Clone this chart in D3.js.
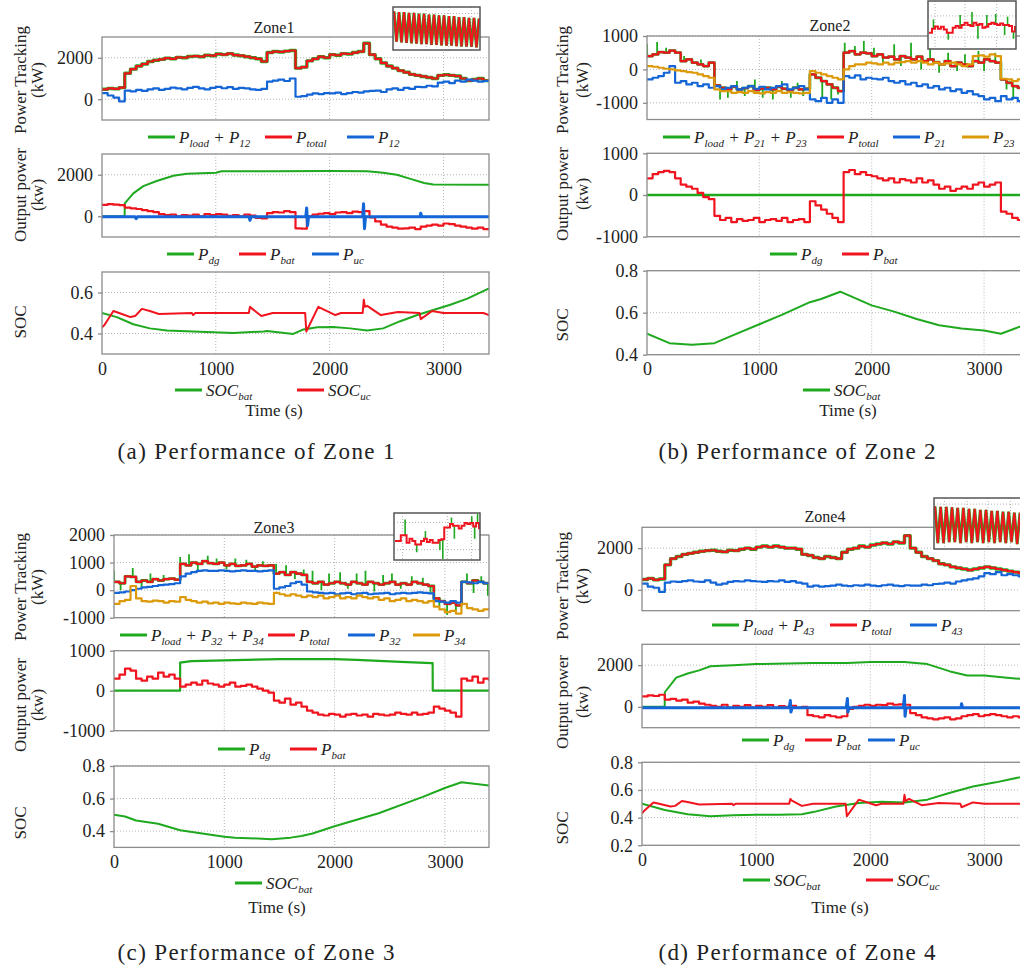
<!DOCTYPE html>
<html>
<head>
<meta charset="utf-8">
<script src="https://cdnjs.cloudflare.com/ajax/libs/d3/7.8.5/d3.min.js"></script>
<style>
  body { margin: 0; background: #fff; }
  svg text { fill: #222; }
</style>
</head>
<body>
<script>
// ---- data ----
// noisy signals sampled every 50 s from 0 to 3400 s
const T50 = d3.range(0, 3401, 50);
const xTickVals = [0, 1000, 2000, 3000];

// Zone 1
const z1Total = [480, 520, 500, 560,
  1250, 1450, 1600, 1700, 1820, 1880, 1920, 1980, 1950, 2020,
  2000, 2060, 2080, 2050, 2120, 2100, 2180, 2150, 2200, 2130,
  2100, 2050, 2000, 1950, 1820,
  2250, 2300, 2280, 2320, 2350,
  1500, 1550,
  1850, 1950, 2050, 2000, 2150, 2120, 2200, 2180, 2250, 2300,
  2700, 2150, 1950, 1750, 1600, 1500, 1380, 1300, 1200, 1150,
  1100, 1050, 1000, 1150, 1180, 1150, 1120, 1000, 900, 950,
  1000, 900, 920];
const z1Load = z1Total; // P_load + P_12 lies under P_total
const z1P12 = [300, 180, 80, -100,
  420, 380, 450, 400, 480, 520, 450, 500, 560, 520,
  480, 550, 600, 520, 480, 550, 600, 530, 580, 500,
  550, 520, 480, 450, 500,
  850, 900, 950, 880, 1000,
  120, 150,
  220, 280, 250, 300, 280, 320, 250, 300, 350, 320,
  380, 400, 420, 350, 480, 520, 450, 550, 500, 600,
  580, 650, 620, 800, 850, 780, 900, 850, 950, 900,
  850, 880, 900];
const z1Bat = [550, 580, 560, 540,
  420, 380, 350, 300, 250, 200, 100, 50, 80, 0,
  50, 30, 80, 0, 100, 50, 100, 80, 20, 60,
  0, 80, 30, -80, -100,
  150, 200, 180, 250, 200,
  -580, -600,
  0, 80, 120, 150, 100, 180, 200, 150, 220, 200,
  250, -50, -250, -400, -500, -550, -600, -580, -550, -620,
  -500, -450, -400, -450, -350, -380, -450, -500, -550, -600,
  -550, -620, -650];
const z1DgT = [0, 199, 200, 275, 363, 480, 627, 745, 1000, 1050, 1500, 2000, 2330, 2470, 2590, 2710, 2830, 2910, 3400];
const z1DgV = [0, 0, 620, 1100, 1450, 1700, 1950, 2050, 2100, 2170, 2170, 2180, 2170, 2100, 2000, 1800, 1600, 1530, 1520];
const z1UcT = [0, 290, 300, 310, 1290, 1300, 1310, 1790, 1798, 1806, 1815, 2290, 2298, 2306, 2315, 2795, 2800, 2810, 3400];
const z1UcV = [-30, -30, -120, -30, -30, -200, -30, -30, 400, -450, -30, -30, 600, -600, -30, -30, 150, -30, -30];
const z1SocBatT = [0, 130, 275, 420, 570, 860, 1155, 1420, 1450, 1680, 1770, 1890, 2030, 2180, 2330, 2470, 2620, 2770, 2910, 3060, 3210, 3400];
const z1SocBatV = [0.50, 0.48, 0.445, 0.425, 0.415, 0.408, 0.402, 0.41, 0.412, 0.398, 0.42, 0.43, 0.432, 0.425, 0.415, 0.425, 0.46, 0.49, 0.515, 0.54, 0.57, 0.62];
const z1SocUcT = [0, 20, 100, 150, 250, 290, 300, 350, 420, 500, 790, 800, 820, 1290, 1300, 1310, 1400, 1500, 1785, 1795, 1900, 2050, 2100, 2290, 2300, 2310, 2330, 2450, 2600, 2790, 2800, 2900, 3000, 3350, 3400];
const z1SocUcV = [0.43, 0.44, 0.51, 0.50, 0.48, 0.485, 0.49, 0.52, 0.51, 0.495, 0.50, 0.49, 0.50, 0.50, 0.53, 0.525, 0.485, 0.50, 0.50, 0.41, 0.53, 0.49, 0.50, 0.50, 0.565, 0.53, 0.535, 0.49, 0.505, 0.50, 0.47, 0.51, 0.50, 0.50, 0.49];
const z1Zig = [0.92, 0.18, 0.9, 0.16, 0.9, 0.15, 0.88, 0.14, 0.88, 0.13, 0.86, 0.12, 0.86, 0.12, 0.84, 0.1, 0.84, 0.1,
  0.82, 0.09, 0.82, 0.08, 0.8, 0.08, 0.8, 0.07, 0.78, 0.06, 0.78, 0.06, 0.76, 0.05, 0.76, 0.04, 0.74];

// Zone 2
const z2Total = [400, 450, 520, 500, 560, 500, 250, 300, 200, 150, 100, 200,
  -480, -550, -600, -520, -600, -560, -500, -620, -580, -550, -600, -520, -580, -620, -550, -600,
  -580,
  -150, -250, -350, -450, -550, -650,
  500, 550, 450, 500, 480, 400, 450, 350, 380, 300, 400, 350, 300, 380, 250, 300, 220, 150, 250, 100, 200, 150, 100,
  250, 200, 300, 250, 200,
  -300, -400, -500, -550, -650, -700];
// P_load + P_21 + P_23 follows P_total, with short spikes (time, tip value)
const z2SpikeT = [0, 90, 170, 330, 480, 650, 720, 800, 870, 960, 1030, 1120, 1200, 1280, 1340, 1390, 1560, 1640, 1700,
  1760, 1850, 1930, 2020, 2100, 2200, 2260, 2350, 2440, 2520, 2600, 2680, 2760, 2830, 2950, 3000, 3100, 3200, 3260, 3330];
const z2SpikeV = [750, 820, 650, 400, 300, -900, -850, -350, -800, -300, -850, -900, -350, -850, -400, -800, -850, -900, -750,
  800, 700, 850, 650, 150, 750, 100, 800, 0, 650, -100, 500, -50, 450, 550, -50, 500, -600, -900, -200];
const z2P21 = [-300, -250, -200, -100, 100, -400, -350, -450, -400, -500, -450, -550,
  -500, -600, -550, -500, -600, -550, -500, -580, -520, -600, -550, -500, -450, -600, -550, -500,
  -600,
  -900, -950, -850, -1000, -900, -1000,
  -200, -250, -180, -300, -250, -280, -300, -250, -350, -400, -350, -450, -400, -500, -450, -550, -500, -600, -550, -650, -600, -700, -650,
  -750, -800, -900, -850, -950,
  -800, -900, -850, -950, -1000, -900];
const z2P23 = [100, 80, 50, 20, 0, -30, -50, -80, -100, -150, -200, -250,
  -600, -650, -650, -700, -680, -700, -650, -700, -720, -680, -700, -650, -700, -680, -700, -720,
  -700,
  -50, -100, -150, -200, -250, -300,
  0, 100, 150, 150, 200, 180, 150, 200, 150, 200, 220, 250, 200, 250, 200, 150, 200, 150, 180, 200, 150, 100, 150,
  400, 420, 380, 450, 400,
  -280, -300, -350, -300, -300, -320];
const z2Bat = [400, 500, 550, 580, 550, 400, 250, 200, 150, 50, -50, -100,
  -500, -600, -550, -650, -580, -620, -600, -550, -650, -600, -580, -620, -550, -650, -600, -580,
  -650,
  -150, -250, -350, -450, -550, -650,
  550, 600, 500, 550, 480, 450, 400, 350, 400, 300, 380, 350, 300, 400, 300, 350, 250, 150, 200, 100, 150, 200, 150,
  250, 300, 200, 250, 300,
  -400, -450, -550, -600, -650, -650];
const z2DgT = [0, 3400];
const z2DgV = [0, 0];
const z2SocT = [0, 200, 400, 600, 800, 1000, 1200, 1450, 1550, 1720, 2000, 2200, 2400, 2600, 2800, 3000, 3150, 3300, 3400];
const z2SocV = [0.50, 0.455, 0.447, 0.455, 0.50, 0.545, 0.59, 0.65, 0.665, 0.70, 0.635, 0.605, 0.57, 0.54, 0.525, 0.515, 0.50, 0.53, 0.55];
const z2InRed = [0.33, 0.42, 0.47, 0.42, 0.46, 0.4, 0.33, 0.33, 0.44, 0.48, 0.44, 0.5, 0.55, 0.5, 0.48,
  0.55, 0.5, 0.52, 0.44, 0.46, 0.52, 0.55, 0.52, 0.5, 0.53, 0.5, 0.5, 0.48, 0.36, 0.48];
const z2InSpikeI = [1.5, 6.5, 10.5, 14.5, 16.5, 19.5, 22.5, 25.5, 26.5, 28.5];
const z2InSpikeV = [0.62, 0.18, 0.72, 0.78, 0.2, 0.72, 0.74, 0.28, 0.68, 0.2];

// Zone 3
const z3Total = [300, 250, 500, 480, 300, 350, 300, 400, 350, 400, 420, 380,
  950, 900, 1000, 950, 1050, 980, 950, 1000, 900, 950, 880, 900, 950, 850, 900, 880, 900,
  600, 650, 550, 650, 600, 550,
  300, 250, 300, 200, 250, 300, 250, 200, 300, 250, 200, 300, 250, 200, 250, 300, 200, 250, 200, 300, 250, 200, 150,
  -300, -400, -500, -450, -550,
  300, 250, 350, 300, 250, 200];
const z3SpikeT = [0, 60, 170, 250, 330, 450, 600, 680, 760, 850, 930, 1020, 1100, 1200, 1280, 1350, 1470, 1560, 1640, 1720,
  1800, 1880, 1950, 2050, 2120, 2200, 2280, 2360, 2440, 2520, 2600, 2700, 2800, 2870, 2950, 3020, 3100, 3200, 3260, 3330, 3390];
const z3SpikeV = [700, 0, 800, 50, 600, 550, 1200, 1300, 700, 1250, 1150, 750, 1150, 1100, 700, 1050, 950, 900, 400, 750,
  700, 0, 600, 650, 50, 600, 700, -50, 550, 600, 50, 500, 450, -100, -600, -900, -750, 600, -100, 500, -200];
const z3P32 = [-100, -80, -50, 0, 50, 100, 120, 150, 180, 200, 220, 250,
  500, 600, 650, 700, 720, 700, 700, 720, 700, 680, 700, 720, 700, 700, 680, 700, 720,
  50, 100, 150, 250, 300, 200,
  -50, -80, -100, -120, -100, -150, -120, -100, -150, -120, -100, -150, -130, -120, -100, -150, -120, -100, -120, -100, -80, -100, -120,
  -400, -420, -450, -400, -450,
  300, 280, 250, 300, 250, 220];
const z3P34 = [-500, -400, -350, 150, -300, -400, -420, -380, -400, -450, -400, -420,
  -250, -350, -400, -450, -420, -480, -450, -500, -450, -480, -500, -450, -480, -500, -450, -480, -500,
  -100, -150, -200, -150, -200, -250,
  -200, -250, -200, -300, -250, -200, -300, -250, -300, -200, -250, -300, -250, -350, -300, -400, -350, -300, -400, -350, -400, -450, -400,
  -600, -700, -800, -750, -850,
  -500, -650, -700, -750, -700, -650];
const z3Bat = [300, 400, 550, 500, 300, 250, 350, 300, 450, 350, 400, 300,
  100, 150, 200, 150, 250, 180, 150, 100, 150, 200, 100, 120, 150, 100, 50, 0, -50,
  -250, -300, -200, -350, -300, -400,
  -500, -550, -600, -620, -580, -600, -650, -600, -580, -620, -600, -650, -580, -600, -620, -600, -550, -580, -600, -550, -600, -580, -550,
  -400, -450, -500, -550, -650,
  300, 250, 350, 200, 300, 250];
const z3DgT = [0, 599, 600, 700, 1000, 1500, 2000, 2200, 2600, 2880, 2889, 2890, 3400];
const z3DgV = [0, 0, 700, 740, 760, 790, 790, 770, 720, 690, 690, 0, 0];
const z3SocT = [0, 100, 200, 400, 600, 800, 1000, 1100, 1300, 1430, 1600, 1700, 1800, 2000, 2400, 2800, 3000, 3150, 3400];
const z3SocV = [0.50, 0.49, 0.465, 0.445, 0.405, 0.385, 0.365, 0.36, 0.355, 0.35, 0.36, 0.37, 0.385, 0.43, 0.51, 0.61, 0.665, 0.70, 0.68];
const z3InRed = [0.4, 0.4, 0.53, 0.53, 0.36, 0.45, 0.4, 0.32, 0.32, 0.4, 0.45, 0.38, 0.42, 0.36, 0.36,
  0.42, 0.44, 0.7, 0.7, 0.78, 0.74, 0.74, 0.68, 0.74, 0.8, 0.78, 0.8, 0.72, 0.8, 0.66];
const z3InSpikeI = [3.5, 7.5, 10.5, 15.5, 16.5, 19.5, 20.5, 26.5, 27.5, 28.5];
const z3InSpikeV = [0.88, 0.15, 0.62, 0.2, 0.0, 0.92, 0.45, 0.95, 0.45, 1.0];

// Zone 4
const z4Total = [500, 550, 480, 520,
  1200, 1500, 1600, 1700, 1750, 1800, 1850, 1880, 1900, 1850,
  1820, 1900, 1880, 1950, 2000, 1950, 2050, 2100, 2050, 2100,
  2050, 2000, 2000, 1950, 1700,
  1650, 1550, 1500, 1600, 1550,
  1500, 1800,
  1950, 2000, 2100, 2050, 2150, 2200, 2250, 2200, 2300, 2250,
  2600, 2000, 1800, 1600, 1500, 1400, 1250, 1200, 1100, 1050,
  1000, 950, 1000, 1050, 1100, 1050, 1000, 950, 900, 850,
  800, 780, 750];
const z4Load = z4Total; // P_load + P_43 lies under P_total
const z4P43 = [300, 150, 100, -100,
  350, 400, 380, 420, 450, 400, 380, 450, 350, 250,
  300, 380, 420, 400, 450, 420, 400, 380, 420, 400, 450, 380, 420, 350,
  300, 150,
  200, 150, 180, 200, 250, 200, 180, 220, 200, 250, 200, 180, 220, 250, 200, 180, 220, 200,
  200, 250, 220, 280, 300, 350, 300, 400, 450, 500, 550, 650, 800, 750, 850, 700, 750, 700, 650, 700, 650];
const z4Bat = [500, 550, 520, 580,
  350, 380, 300, 350, 200, 250, 150, 100,
  50, 0, 100, -50, 50, 0, 80, -30, 50, 0, 80, -50, 30, 0, 50, -50, 0,
  -400, -450, -500, -400, -450, -500, -450,
  -100, 0, 50, 100, 50, 100, 80, 150, 100, 120,
  100,
  -300, -400, -500, -550, -600, -550, -500, -600, -550,
  -450, -400, -350, -450, -400, -350, -400, -450, -500, -450, -500, -550, -500];
const z4DgT = [0, 199, 200, 300, 400, 500, 600, 800, 1000, 1500, 1800, 2000, 2300, 2400, 2500, 2700, 2850, 3000, 3200, 3400];
const z4DgV = [0, 0, 700, 1400, 1600, 1750, 1950, 2000, 2050, 2100, 2100, 2150, 2150, 2100, 2050, 1700, 1500, 1500, 1400, 1300];
const z4UcT = [0, 1290, 1300, 1305, 1315, 1790, 1800, 1805, 1815, 2290, 2300, 2305, 2315, 2795, 2800, 2810, 3400];
const z4UcV = [-40, -40, 300, -250, -40, -40, 400, -250, -40, -40, 550, -450, -40, -40, 150, -40, -40];
const z4SocBatT = [0, 200, 400, 600, 800, 1000, 1200, 1400, 1500, 1700, 1900, 2100, 2300, 2500, 2700, 2900, 3100, 3300, 3400];
const z4SocBatV = [0.50, 0.455, 0.425, 0.41, 0.418, 0.42, 0.42, 0.425, 0.44, 0.48, 0.505, 0.515, 0.51, 0.53, 0.58, 0.625, 0.655, 0.69, 0.71];
const z4SocUcT = [0, 20, 100, 150, 250, 290, 300, 350, 420, 500, 790, 800, 820, 1290, 1300, 1310, 1400, 1500, 1785, 1795, 1900, 2050, 2100, 2290, 2300, 2310, 2340, 2450, 2600, 2790, 2800, 2900, 3000, 3400];
const z4SocUcV = [0.43, 0.45, 0.51, 0.50, 0.48, 0.485, 0.49, 0.52, 0.51, 0.495, 0.50, 0.49, 0.50, 0.50, 0.535, 0.525, 0.485, 0.50, 0.50, 0.41, 0.53, 0.49, 0.50, 0.50, 0.565, 0.52, 0.535, 0.49, 0.505, 0.50, 0.475, 0.51, 0.50, 0.50];
const z4Zig = [0.85, 0.1, 0.84, 0.1, 0.84, 0.12, 0.83, 0.12, 0.82, 0.1, 0.82, 0.12, 0.8, 0.1, 0.8, 0.12,
  0.78, 0.1, 0.78, 0.12, 0.76, 0.1, 0.76, 0.12, 0.74, 0.1, 0.74, 0.12, 0.72, 0.08, 0.72];

// ---- colours ----
const GREEN = "#1fa91f", RED = "#f0141e", BLUE = "#1466d6", ORANGE = "#dc9a0a";

// pick the first serif face that is really installed
function pickFont(list) {
  const c = document.createElement("canvas").getContext("2d");
  const s = "Performance of Zone 0123456789 Tracking (kW)";
  for (const f of list) {
    for (const base of ["monospace", "sans-serif"]) {
      c.font = "20px " + base;
      const w0 = c.measureText(s).width;
      c.font = "20px '" + f + "', " + base;
      if (c.measureText(s).width !== w0) return "'" + f + "', serif";
    }
  }
  return "serif";
}
const FONT = pickFont(["Liberation Serif", "Times New Roman", "Tinos", "DejaVu Serif", "Noto Serif", "FreeSerif"]);

const svg = d3.select("body").append("svg").attr("width", 1020).attr("height", 968)
  .style("font-family", FONT);
const defs = svg.append("defs");
let clipN = 0;

function clip(x, y, w, h) {
  const id = "c" + (clipN++);
  defs.append("clipPath").attr("id", id).append("rect")
    .attr("x", x).attr("y", y).attr("width", w).attr("height", h);
  return "url(#" + id + ")";
}

function panel(o) {
  const x = d3.scaleLinear().domain([0, 3400]).range([o.x0, o.x1]);
  const y = d3.scaleLinear().domain(o.dom).range([o.y1, o.y0]);
  const g = svg.append("g");

  // dotted grid
  g.selectAll(null).data([1000, 2000, 3000]).enter().append("line")
    .attr("x1", d => x(d)).attr("x2", d => x(d))
    .attr("y1", o.y0).attr("y2", o.y1)
    .attr("stroke", "#b5b5b5").attr("stroke-dasharray", "1,2");
  g.selectAll(null).data(o.ticks).enter().append("line")
    .attr("x1", o.x0).attr("x2", o.x1)
    .attr("y1", d => y(d)).attr("y2", d => y(d))
    .attr("stroke", "#b5b5b5").attr("stroke-dasharray", "1,2");

  const lg = g.append("g").attr("clip-path", clip(o.x0, o.y0, o.x1 - o.x0, o.y1 - o.y0));
  o.series.forEach(s => {
    if (s.spikes) {
      // thin spikes leaving the base step series
      lg.selectAll(null).data(s.spikes.t).enter().append("line")
        .attr("x1", d => x(d)).attr("x2", d => x(d))
        .attr("y1", d => y(s.base[Math.min(s.base.length - 1, Math.floor(d / 50))]))
        .attr("y2", (d, i) => y(s.spikes.v[i]))
        .attr("stroke", s.c).attr("stroke-width", 1.8);
    }
    const pts = s.t.map((tt, i) => [tt, s.v[i]]);
    lg.append("path").datum(pts)
      .attr("fill", "none")
      .attr("stroke", s.c)
      .attr("stroke-width", s.w || 1.8)
      .attr("stroke-linejoin", "round")
      .attr("d", d3.line().x(d => x(d[0])).y(d => y(d[1]))
        .curve(s.step ? d3.curveStepAfter : d3.curveLinear));
  });

  g.append("rect")
    .attr("x", o.x0).attr("y", o.y0)
    .attr("width", o.x1 - o.x0).attr("height", o.y1 - o.y0)
    .attr("fill", "none").attr("stroke", "#8c8c8c").attr("stroke-width", 1.3);

  const ya = g.append("g").attr("transform", "translate(" + o.x0 + ",0)")
    .call(d3.axisLeft(y).tickValues(o.ticks).tickSize(4).tickSizeOuter(0).tickPadding(5)
      .tickFormat(d => String(d)));
  ya.attr("font-family", null).style("font-family", FONT);
  ya.select(".domain").remove();
  ya.selectAll("line").attr("stroke", "#8c8c8c").attr("stroke-width", 1.3);
  ya.selectAll("text").style("font-size", "18px").attr("fill", "#222");

  if (o.xlab) {
    const xa = g.append("g").attr("transform", "translate(0," + o.y1 + ")")
      .call(d3.axisBottom(x).tickValues(xTickVals).tickSize(0).tickPadding(8)
        .tickFormat(d => String(d)));
    xa.attr("font-family", null).style("font-family", FONT);
    xa.select(".domain").remove();
    xa.selectAll("text").style("font-size", "18px").attr("fill", "#222");
  }
}

function inset(o) {
  const g = svg.append("g");
  g.append("rect").attr("x", o.x0).attr("y", o.y0).attr("width", o.w).attr("height", o.h)
    .attr("fill", "#fff");
  o.vg.forEach(f => g.append("line")
    .attr("x1", o.x0 + f * o.w).attr("x2", o.x0 + f * o.w).attr("y1", o.y0).attr("y2", o.y0 + o.h)
    .attr("stroke", "#b5b5b5").attr("stroke-dasharray", "1,2"));
  o.hg.forEach(f => g.append("line")
    .attr("x1", o.x0).attr("x2", o.x0 + o.w).attr("y1", o.y0 + f * o.h).attr("y2", o.y0 + f * o.h)
    .attr("stroke", "#b5b5b5").attr("stroke-dasharray", "1,2"));
  const lg = g.append("g").attr("clip-path", clip(o.x0, o.y0, o.w, o.h));
  o.series.forEach(s => {
    const x = d3.scaleLinear().domain([0, s.v.length - 1]).range([o.x0 + 1, o.x0 + o.w - 1]);
    const y = d3.scaleLinear().domain([0, 1]).range([o.y0 + o.h - 1, o.y0 + 1]);
    if (s.spikes) {
      lg.selectAll(null).data(s.spikes.i).enter().append("line")
        .attr("x1", d => x(d)).attr("x2", d => x(d))
        .attr("y1", d => y(s.v[Math.floor(d)])).attr("y2", (d, i) => y(s.spikes.v[i]))
        .attr("stroke", GREEN).attr("stroke-width", 1.6);
    }
    lg.append("path").datum(s.v)
      .attr("fill", "none").attr("stroke", s.c).attr("stroke-width", s.w)
      .attr("d", d3.line().x((d, i) => x(i)).y(d => y(d))
        .curve(s.step ? d3.curveStepAfter : d3.curveLinear));
  });
  g.append("rect").attr("x", o.x0).attr("y", o.y0).attr("width", o.w).attr("height", o.h)
    .attr("fill", "none").attr("stroke", "#555").attr("stroke-width", 1.5);
}

// text with _{sub} subscripts
function rich(sel, str, size) {
  const parts = str.split(/(_\{[^}]*\})/).filter(s => s.length);
  let down = false;
  parts.forEach(p => {
    if (p.startsWith("_{")) {
      sel.append("tspan").text(p.slice(2, -1))
        .style("font-size", Math.round(size * 0.66) + "px")
        .attr("dy", down ? 0 : 4);
      down = true;
    } else {
      const ts = sel.append("tspan").text(p).attr("dy", down ? -4 : 0);
      if (p.trim() === "+") ts.style("font-style", "normal");
      down = false;
    }
  });
}

function legend(y, items) {
  items.forEach(it => {
    svg.append("line").attr("x1", it.x).attr("x2", it.x + 27)
      .attr("y1", y).attr("y2", y).attr("stroke", it.c).attr("stroke-width", 3);
    const t = svg.append("text").attr("x", it.x + 31).attr("y", y + 5.5)
      .style("font-size", "17px").style("font-style", "italic").style("white-space", "pre");
    rich(t, it.s, 17);
  });
}

function txt(x, y, s, size, rot) {
  const t = svg.append("text").attr("text-anchor", "middle").attr("dy", "0.35em")
    .style("font-size", size + "px").text(s);
  if (rot) t.attr("transform", "translate(" + x + "," + y + ")rotate(-90)");
  else t.attr("x", x).attr("y", y);
  return t;
}

function ylabels(xa, xb, yPT, yOP, ySOC) {
  txt(xa, yPT, "Power Tracking", 17, true);
  txt(xb, yPT, "(kW)", 17, true);
  txt(xa, yOP, "Output power", 17, true);
  txt(xb, yOP, "(kw)", 17, true);
  txt(xa, ySOC, "SOC", 17, true);
}

function caption(x, y, s) {
  svg.append("text").attr("x", x).attr("y", y).attr("text-anchor", "middle")
    .attr("textLength", 277).attr("lengthAdjust", "spacing")
    .style("font-size", "23px").text(s);
}

const st = (v, c, w) => ({ t: T50, v: v, c: c, w: w, step: true });
const ln = (t, v, c, w) => ({ t: t, v: v, c: c, w: w });
const spk = (base, t, v) => ({ t: T50, v: base, c: GREEN, w: 2.8, step: true, base: base, spikes: { t: t, v: v } });

// ---- Zone 1 ----
panel({ x0: 102, x1: 489, y0: 37, y1: 120, dom: [-1000, 3000], ticks: [0, 2000],
  series: [st(z1Load, GREEN, 3.4), st(z1Total, RED, 2.2), st(z1P12, BLUE, 2.2)] });
panel({ x0: 102, x1: 489, y0: 154, y1: 237, dom: [-1000, 3000], ticks: [0, 2000],
  series: [ln(z1DgT, z1DgV, GREEN, 2), st(z1Bat, RED, 2.2), ln(z1UcT, z1UcV, BLUE, 3)] });
panel({ x0: 102, x1: 489, y0: 272, y1: 354, dom: [0.3, 0.7], ticks: [0.4, 0.6], xlab: true,
  series: [ln(z1SocBatT, z1SocBatV, GREEN, 2), ln(z1SocUcT, z1SocUcV, RED, 2)] });
inset({ x0: 393, y0: 7, w: 87, h: 43, vg: [0.38, 0.64, 0.9], hg: [0.15, 0.7],
  series: [{ v: z1Zig, c: GREEN, w: 3 }, { v: z1Zig, c: RED, w: 2 }] });
txt(274, 27, "Zone1", 16);
legend(137, [{ x: 148, c: GREEN, s: "P_{load} + P_{12}" }, { x: 265, c: RED, s: "P_{total}" }, { x: 347, c: BLUE, s: "P_{12}" }]);
legend(254, [{ x: 167, c: GREEN, s: "P_{dg}" }, { x: 239, c: RED, s: "P_{bat}" }, { x: 312, c: BLUE, s: "P_{uc}" }]);
legend(390, [{ x: 175, c: GREEN, s: "SOC_{bat}" }, { x: 297, c: RED, s: "SOC_{uc}" }]);
txt(274, 410, "Time (s)", 17);
ylabels(20, 37, 80, 195, 322);
caption(256, 459, "(a) Performance of Zone 1");

// ---- Zone 2 ----
panel({ x0: 647, x1: 1029, y0: 36, y1: 119.5, dom: [-1500, 1000], ticks: [-1000, 0, 1000],
  series: [spk(z2Total, z2SpikeT, z2SpikeV), st(z2Total, RED, 2.2), st(z2P21, BLUE, 2.2), st(z2P23, ORANGE, 2.2)] });
panel({ x0: 647, x1: 1029, y0: 153.3, y1: 236.7, dom: [-1000, 1000], ticks: [-1000, 0, 1000],
  series: [ln(z2DgT, z2DgV, GREEN, 2.4), st(z2Bat, RED, 2.2)] });
panel({ x0: 647, x1: 1029, y0: 270.7, y1: 354.7, dom: [0.4, 0.8], ticks: [0.4, 0.6, 0.8], xlab: true,
  series: [ln(z2SocT, z2SocV, GREEN, 2)] });
inset({ x0: 928, y0: 1, w: 88, h: 48, vg: [0.08, 0.42, 0.78], hg: [0.31, 0.75],
  series: [{ v: z2InRed, c: RED, w: 2, step: true, spikes: { i: z2InSpikeI, v: z2InSpikeV } }] });
txt(830, 25, "Zone2", 16);
legend(137, [{ x: 663, c: GREEN, s: "P_{load} + P_{21} + P_{23}" }, { x: 817, c: RED, s: "P_{total}" },
  { x: 893, c: BLUE, s: "P_{21}" }, { x: 962, c: ORANGE, s: "P_{23}" }]);
legend(254, [{ x: 770, c: GREEN, s: "P_{dg}" }, { x: 842, c: RED, s: "P_{bat}" }]);
legend(390, [{ x: 803, c: GREEN, s: "SOC_{bat}" }]);
txt(848, 410, "Time (s)", 17);
ylabels(562, 582, 80, 194, 325);
caption(797, 459, "(b) Performance of Zone 2");

// ---- Zone 3 ----
panel({ x0: 114, x1: 489, y0: 535, y1: 617.7, dom: [-1000, 2000], ticks: [-1000, 0, 1000, 2000],
  series: [spk(z3Total, z3SpikeT, z3SpikeV), st(z3Total, RED, 2.2), st(z3P32, BLUE, 2.2), st(z3P34, ORANGE, 2.2)] });
panel({ x0: 114, x1: 489, y0: 650.7, y1: 730.7, dom: [-1000, 1000], ticks: [-1000, 0, 1000],
  series: [ln(z3DgT, z3DgV, GREEN, 2.2), st(z3Bat, RED, 2.2)] });
panel({ x0: 114, x1: 489, y0: 766, y1: 847.4, dom: [0.3, 0.8], ticks: [0.4, 0.6, 0.8], xlab: true,
  series: [ln(z3SocT, z3SocV, GREEN, 2)] });
inset({ x0: 394, y0: 513, w: 86, h: 47, vg: [0.1, 0.62, 0.9], hg: [0.2, 0.78],
  series: [{ v: z3InRed, c: RED, w: 2, step: true, spikes: { i: z3InSpikeI, v: z3InSpikeV } }] });
txt(274, 527, "Zone3", 16);
legend(635, [{ x: 120, c: GREEN, s: "P_{load} + P_{32} + P_{34}" }, { x: 268, c: RED, s: "P_{total}" },
  { x: 348, c: BLUE, s: "P_{32}" }, { x: 413, c: ORANGE, s: "P_{34}" }]);
legend(749, [{ x: 218, c: GREEN, s: "P_{dg}" }, { x: 290, c: RED, s: "P_{bat}" }]);
legend(883, [{ x: 235, c: GREEN, s: "SOC_{bat}" }]);
txt(277, 907, "Time (s)", 17);
ylabels(20, 37, 587, 705, 823);
caption(256, 960, "(c) Performance of Zone 3");

// ---- Zone 4 ----
panel({ x0: 642, x1: 1030, y0: 527.3, y1: 610.7, dom: [-1000, 3000], ticks: [0, 2000],
  series: [st(z4Load, GREEN, 3.4), st(z4Total, RED, 2.2), st(z4P43, BLUE, 2.2)] });
panel({ x0: 642, x1: 1030, y0: 644.3, y1: 727.7, dom: [-1000, 3000], ticks: [0, 2000],
  series: [ln(z4DgT, z4DgV, GREEN, 2), st(z4Bat, RED, 2.2), ln(z4UcT, z4UcV, BLUE, 3)] });
panel({ x0: 642, x1: 1030, y0: 762.3, y1: 845.3, dom: [0.2, 0.8], ticks: [0.2, 0.4, 0.6, 0.8], xlab: true,
  series: [ln(z4SocBatT, z4SocBatV, GREEN, 2), ln(z4SocUcT, z4SocUcV, RED, 2)] });
inset({ x0: 934, y0: 498, w: 87, h: 51, vg: [0.12, 0.38, 0.62, 0.88], hg: [0.12, 0.8],
  series: [{ v: z4Zig, c: GREEN, w: 3 }, { v: z4Zig, c: RED, w: 2 }] });
txt(825, 516, "Zone4", 16);
legend(625, [{ x: 712, c: GREEN, s: "P_{load} + P_{43}" }, { x: 830, c: RED, s: "P_{total}" }, { x: 910, c: BLUE, s: "P_{43}" }]);
legend(740, [{ x: 742, c: GREEN, s: "P_{dg}" }, { x: 805, c: RED, s: "P_{bat}" }, { x: 868, c: BLUE, s: "P_{uc}" }]);
legend(880, [{ x: 743, c: GREEN, s: "SOC_{bat}" }, { x: 866, c: RED, s: "SOC_{uc}" }]);
txt(840, 907, "Time (s)", 17);
ylabels(562, 582, 586, 702, 828);
caption(797, 960, "(d) Performance of Zone 4");
</script>
</body>
</html>
